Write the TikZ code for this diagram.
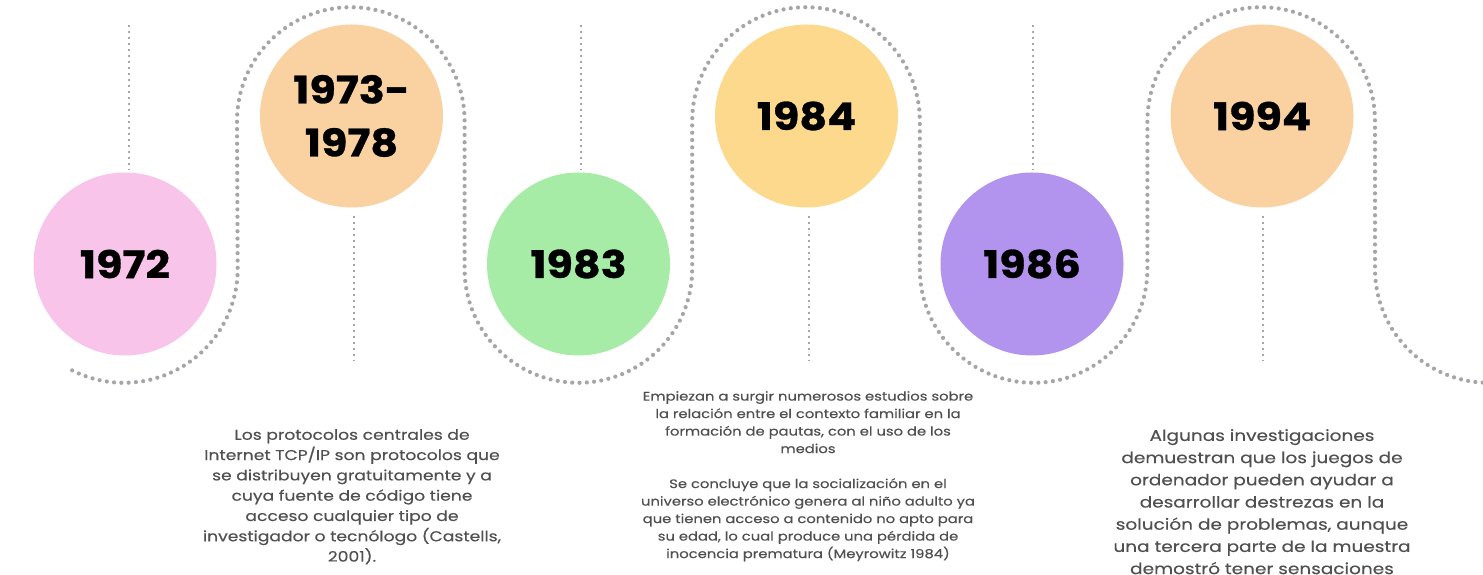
\documentclass[tikz,border=0pt]{standalone}
\usepackage{fontspec}
\setmainfont{Poppins}
\newfontfamily\descfont[FakeStretch=1.2,FakeBold=0.3]{Poppins}
\newfontfamily\yearfont[FakeStretch=1.13,FakeBold=0.8]{Poppins}
\definecolor{dotgray}{RGB}{165,165,170}
\definecolor{txtgray}{RGB}{80,80,80}
\definecolor{cpink}{RGB}{249,196,234}
\definecolor{cpeach}{RGB}{250,210,162}
\definecolor{cgreen}{RGB}{166,235,166}
\definecolor{cyellow}{RGB}{252,217,140}
\definecolor{cpurple}{RGB}{178,148,238}
\tikzset{
  yearcirc/.style={circle, inner sep=0pt, minimum size=183pt, align=center,
    font=\yearfont\bfseries\fontsize{38}{42}\selectfont, text=black},
  bigdots/.style={dotgray, line width=4.2pt, line cap=round, dash pattern=on 0pt off 7.3pt},
  vdots/.style={dotgray, line width=2.6pt, dash pattern=on 2.2pt off 3.8pt},
  desc/.style={align=center, text=txtgray, inner sep=0pt}
}
\begin{document}
\begin{tikzpicture}[x=1pt,y=1pt]
\useasboundingbox (0,0) rectangle (1483,575);
\clip (0,0) rectangle (1483,575);
\fill[white] (0,0) rectangle (1483,575);
% serpentine dotted path
\draw[bigdots] (72.2,204.6) arc[start angle=243, end angle=360, radius=113.8]
  -- (237,454) arc[start angle=180, end angle=0, radius=113.8]
  -- (464.6,306) arc[start angle=180, end angle=360, radius=113.8]
  -- (692.2,454) arc[start angle=180, end angle=0, radius=113.8]
  -- (919.8,306) arc[start angle=180, end angle=360, radius=113.8]
  -- (1147.4,454) arc[start angle=180, end angle=0, radius=113.8]
  -- (1375,306) arc[start angle=180, end angle=275, radius=113.8];
% circles
\node[yearcirc, fill=cpink] (c1972) at (125,311) {1972};
\node[yearcirc, fill=cpeach, font=\yearfont\bfseries\fontsize{38}{53}\selectfont] (c1973) at (351.5,459) {1973-\\1978};
\node[yearcirc, fill=cgreen] (c1983) at (578.5,311) {1983};
\node[yearcirc, fill=cyellow] (c1984) at (806.5,459) {1984};
\node[yearcirc, fill=cpurple] (c1986) at (1032,311) {1986};
\node[yearcirc, fill=cpeach] (c1994) at (1262,459) {1994};
% vertical dotted lines
\coordinate (t1972) at (129,550);
\coordinate (t1983) at (581,550);
\coordinate (t1986) at (1033,550);
\coordinate (b1973) at (354,215);
\coordinate (b1984) at (809,215);
\coordinate (b1994) at (1263,215);
\draw[vdots] (t1972) -- ([yshift=2pt]t1972 |- c1972.north);
\draw[vdots] (t1983) -- ([yshift=2pt]t1983 |- c1983.north);
\draw[vdots] (t1986) -- ([yshift=2pt]t1986 |- c1986.north);
\draw[vdots] ([yshift=-8pt]b1973 |- c1973.south) -- (b1973);
\draw[vdots] ([yshift=-8pt]b1984 |- c1984.south) -- (b1984);
\draw[vdots] ([yshift=-8pt]b1994 |- c1994.south) -- (b1994);
% descriptions
\node[desc, anchor=north, font=\descfont\fontsize{14.3}{20.3}\selectfont] (d1973) at (352,146)
 {Los protocolos centrales de\\Internet TCP/IP son protocolos que\\se distribuyen gratuitamente y a\\cuya fuente de código tiene\\acceso cualquier tipo de\\investigador o tecnólogo (Castells,\\2001).};
\node[desc, anchor=north, font=\descfont\fontsize{12.3}{17.5}\selectfont] (d1984) at (808,184)
 {Empiezan a surgir numerosos estudios sobre\\la relación entre el contexto familiar en la\\formación de pautas, con el uso de los\\medios\\[17.5pt]Se concluye que la socialización en el\\universo electrónico genera al niño adulto ya\\que tienen acceso a contenido no apto para\\su edad, lo cual produce una pérdida de\\inocencia prematura (Meyrowitz 1984)};
\node[desc, anchor=north, font=\descfont\fontsize{15.4}{22.2}\selectfont] (d1994) at (1262,146)
 {Algunas investigaciones\\demuestran que los juegos de\\ordenador pueden ayudar a\\desarrollar destrezas en la\\solución de problemas, aunque\\una tercera parte de la muestra\\demostró tener sensaciones};
\end{tikzpicture}
\end{document}
